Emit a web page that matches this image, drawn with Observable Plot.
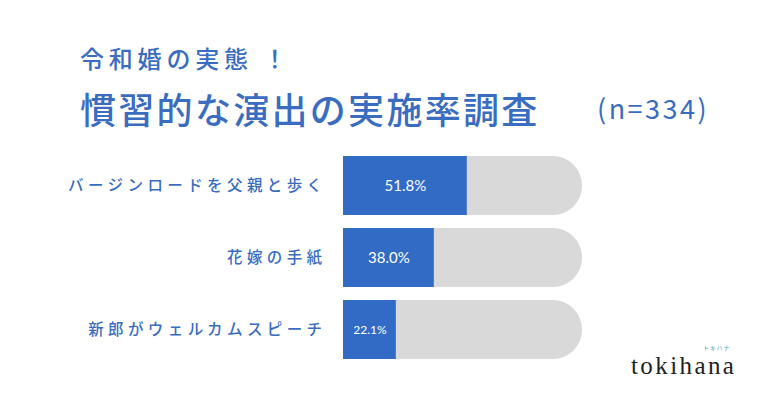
<!DOCTYPE html>
<html><head><meta charset="utf-8">
<script src="https://cdn.jsdelivr.net/npm/d3@7"></script>
<script src="https://cdn.jsdelivr.net/npm/@observablehq/plot@0.6"></script>
<style>
body{margin:0;background:#fff;width:780px;height:408px;overflow:hidden;position:relative;font-family:"Noto Sans CJK JP",sans-serif;}
#chart{position:absolute;left:0;top:0;}
.t{position:absolute;color:#3a6dbf;font-weight:500;white-space:nowrap;line-height:1;}
#t1{left:80px;top:46px;font-size:24px;letter-spacing:4.8px;}
#t1 span{margin-left:10px;}
#t2{left:80px;top:90px;font-size:36px;letter-spacing:2.3px;}
#t3{left:597px;top:94px;font-size:27px;font-weight:400;letter-spacing:2.5px;}
#logo{position:absolute;left:631px;top:353px;font-family:"Liberation Serif",serif;font-size:25px;color:#222;line-height:1;letter-spacing:2.4px;}
#logo2{position:absolute;left:703px;top:345px;font-size:6px;color:#4aa8c2;letter-spacing:0.8px;line-height:1;}
g[aria-label="y-axis tick label"] text{letter-spacing:4.4px;}
</style></head>
<body>
<div class="t" id="t1">令和婚の実態<span>！</span></div>
<div class="t" id="t2">慣習的な演出の実施率調査</div>
<div class="t" id="t3">(n=334)</div>
<div id="chart"></div>
<div id="logo">tokihana</div>
<div id="logo2">トキハナ</div>
<script>
const categories = ["バージンロードを父親と歩く", "花嫁の手紙", "新郎がウェルカムスピーチ"];
const values = [51.8, 38.0, 22.1];
const valueLabels = ["51.8%", "38.0%", "22.1%"];
const totals = [100, 100, 100];

const data = categories.map((c, i) => ({cat: c, value: values[i], label: valueLabels[i], total: totals[i]}));

const blue = "#316bc5";
const textBlue = "#3a6dbf";

const chart = Plot.plot({
  width: 780,
  height: 408,
  marginLeft: 343,
  marginRight: 198,
  marginTop: 143,
  marginBottom: 36,
  style: {background: "transparent", fontFamily: "'Noto Sans CJK JP', sans-serif"},
  x: {domain: [0, 100], axis: null},
  y: {domain: categories, padding: 0.18, axis: null, label: null},
  marks: [
    Plot.barX(data, {y: "cat", x1: 0, x2: "total", fill: "#d9d9d9", rx: 29}),
    Plot.barX(data, {y: "cat", x1: 0, x2: "value", fill: blue}),
    Plot.text(data, {
      y: "cat", x: d => d.value / 2, text: "label", fill: "white",
      fontSize: d => d.value < 30 ? 12 : 15,
      fontFamily: "Lato, sans-serif"
    }),
    Plot.axisY({tickSize: 0, tickPadding: 17, fontSize: 15.5, fill: textBlue, fontWeight: 500, label: null})
  ]
});
document.getElementById("chart").appendChild(chart);
</script>
</body></html>
